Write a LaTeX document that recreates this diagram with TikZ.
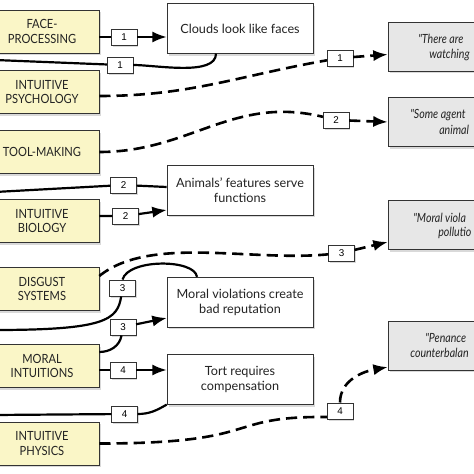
\documentclass[tikz,border=0pt]{standalone}
\usepackage{fontspec}
\setmainfont{Lato}
\newfontfamily\capsfont[FakeStretch = 0.88]{Lato}
\newfontfamily\quotefont[FakeStretch = 0.84]{Lato Italic}
\newfontfamily\numfont{Liberation Sans}
\usetikzlibrary{arrows.meta, shadows}
\definecolor{facultyYellow}{RGB}{250,246,199}
\definecolor{beliefGrey}{RGB}{231,231,231}
\definecolor{inkGrey}{RGB}{35,35,35}
\tikzstyle{faculty} = [rectangle, text centered, align = center, minimum width = 2.85cm, minimum height = 1.07cm, draw = black!80, fill = facultyYellow, text = inkGrey, drop shadow = {opacity = 0.3, shadow xshift = 0.6mm, shadow yshift = -0.6mm}, font = \capsfont\fontsize{9}{10.6}\selectfont]
\tikzstyle{inference} = [rectangle, text centered, align = center, minimum width = 3.65cm, minimum height = 1.24cm, draw = black!80, fill = white, text = inkGrey, drop shadow = {opacity = 0.3, shadow xshift = 0.6mm, shadow yshift = -0.6mm}, font = \fontsize{9}{10.6}\selectfont]
\tikzstyle{belief} = [rectangle, minimum width = 3.6cm, minimum height = 1.225cm, draw = black!80, fill = beliefGrey, drop shadow = {opacity = 0.3, shadow xshift = 0.6mm, shadow yshift = -0.6mm}]
\tikzstyle{quote} = [anchor = west, inner sep = 0pt, text = inkGrey, font = \quotefont\fontsize{9}{10.6}\selectfont]
\tikzstyle{route} = [rectangle, text centered, minimum width = 0.64cm, minimum height = 0.41cm, inner sep = 0pt, draw = black!80, fill = white, drop shadow = {opacity = 0.3, shadow xshift = 0.4mm, shadow yshift = -0.4mm}, font = \numfont\fontsize{7}{8}\selectfont]
\tikzstyle{link} = [line width = 0.55mm]
\tikzstyle{dashlink} = [line width = 0.65mm, dash pattern = on 2.8mm off 1.5mm]

\begin{document}
\begin{tikzpicture}[x = 0.025cm, y = 0.025cm, >={Latex[length = 3.6mm, width = 2.8mm]}]
\useasboundingbox (0,0) rectangle (474,474);

% faculties
\node (faceProc) [faculty] at (42,442.5) {FACE-\\PROCESSING};
\node (intPsych) [faculty] at (42,382) {INTUITIVE\\PSYCHOLOGY};
\node (toolMaking) [faculty] at (42,322) {TOOL-MAKING};
\node (intBio) [faculty] at (42,253) {INTUITIVE\\BIOLOGY};
\node (disgustSys) [faculty] at (42,185) {DISGUST\\SYSTEMS};
\node (moralInt) [faculty] at (42,108) {MORAL\\INTUITIONS};
\node (intPhys) [faculty] at (42,30.5) {INTUITIVE\\PHYSICS};

% intuitive inferences
\node (clouds) [inference] at (240,445.5) {Clouds look like faces};
\node (animalFeat) [inference] at (240,284) {Animals' features serve\\functions};
\node (moralRep) [inference] at (240,172) {Moral violations create\\bad reputation};
\node (tortComp) [inference] at (240,94.5) {Tort requires\\compensation};

% beliefs, cut by the right edge
\node (agentsBox) [belief] at (460,427.5) {};
\node (designBox) [belief] at (460,352) {};
\node (pollutionBox) [belief] at (460,249) {};
\node (penanceBox) [belief] at (460,128.5) {};
\node (agentsTxtA) [quote] at (418,435) {"There are};
\node (agentsTxtB) [quote] at (429,419) {watching};
\node (designTxtA) [quote] at (410,359) {"Some agent};
\node (designTxtB) [quote] at (439,344) {animal};
\node (pollutionTxtA) [quote] at (413,256) {"Moral viola};
\node (pollutionTxtB) [quote] at (438,241) {pollutio};
\node (penanceTxtA) [quote] at (425,136) {"Penance};
\node (penanceTxtB) [quote] at (410,121) {counterbalan};

% route numbers
\node (numOneA) [route] at (124,437) {1};
\node (numOneB) [route] at (120,409) {1};
\node (numOneC) [route] at (340,416) {1};
\node (numTwoA) [route] at (336,354) {2};
\node (numTwoB) [route] at (123.5,289) {2};
\node (numTwoC) [route] at (125.5,258) {2};
\node (numThreeA) [route] at (122.5,186) {3};
\node (numThreeB) [route] at (123,147) {3};
\node (numThreeC) [route] at (341.5,221) {3};
\node (numFourA) [route] at (123,104) {4};
\node (numFourB) [route] at (124.5,60) {4};
\node (numFourC) [route] at (340,63) {4};

% free ends beyond the left edge
\coordinate (offA) at (-5,414);
\coordinate (offB) at (-5,282);
\coordinate (offC) at (-5,144);
\coordinate (offD) at (-5,59);

% route 1
\draw [->, link] (faceProc.east |- numOneA) -- (numOneA) -- (clouds.west |- numOneA);
\draw [link] ([xshift=-0.6cm]clouds.south) to[out=-90, in=0, looseness=0.7] (numOneB) -- (offA);
\draw [->, dashlink] ([yshift=-0.1cm]intPsych.east) to[out=0, in=190] (numOneC) -- ([yshift=-0.2cm]agentsBox.west);

% route 2
\draw [->, dashlink] (toolMaking.east) .. controls +(91,0) and +(-103,25) .. (numTwoA) -- (designBox.west);
\draw [link] (offB) -- (numTwoB) -- ([yshift=0.075cm]animalFeat.west);
\draw [->, link] (intBio.east |- numTwoC) -- (numTwoC) -- ([yshift=-0.5cm]animalFeat.west);

% route 3
\draw [->, dashlink] ([yshift=0.325cm]disgustSys.east) .. controls +(51,41) and +(-91,-9) .. (numThreeC) -- ([yshift=-0.425cm]pollutionBox.west);
\draw [link] (offC) .. controls +(110,0) and +(-5,-32) .. (numThreeA);
\draw [link] (numThreeA.north) .. controls +(6,21) and +(-2,18) .. ([xshift=-1.075cm]moralRep.north);
\draw [->, link] ([yshift=0.35cm]moralInt.east) to[out=0, in=-100] (numThreeB) -- ([yshift=-0.4cm]moralRep.west);

% route 4
\draw [->, link] (moralInt.east |- numFourA) -- (numFourA) -- (tortComp.west |- numFourA);
\draw [link] (offD) -- (numFourB) to[out=0, in=-150] (tortComp.south west);
\draw [dashlink] (intPhys.east) .. controls +(166,0) and +(-105,1) .. ([yshift=-0.15cm]numFourC.west);
\draw [->, dashlink] (numFourC) to[out=90, in=190] ([yshift=-0.54cm]penanceBox.west);
\end{tikzpicture}
\end{document}
